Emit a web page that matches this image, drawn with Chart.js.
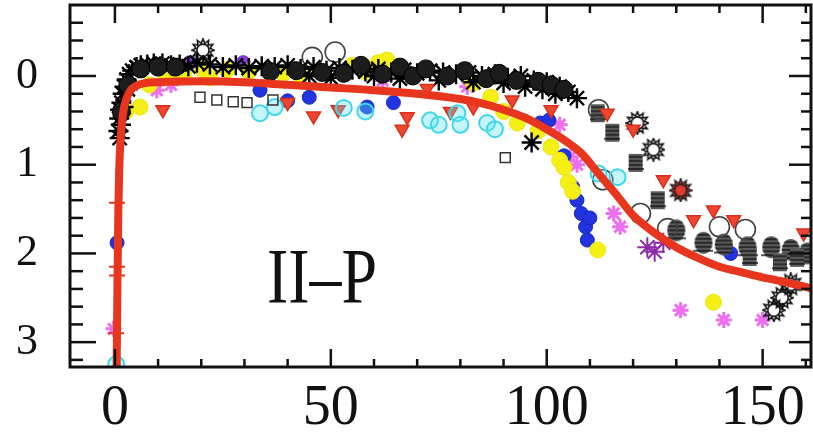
<!DOCTYPE html>
<html>
<head>
<meta charset="utf-8">
<script src="https://cdn.jsdelivr.net/npm/chart.js@4.4.0/dist/chart.umd.min.js"></script>
<style>
  html, body { margin: 0; padding: 0; background: #fff; }
  #wrap { width: 813px; height: 433px; position: relative; }
</style>
</head>
<body>
<div id="wrap"><canvas id="c"></canvas></div>
<script>
// ---- light-curve data: days since explosion vs. magnitude below peak ----

// template curve
const templateX = [0.4, 0.6, 0.8, 1.0, 1.3, 1.8, 2.5, 3.5, 5, 7, 10, 20, 30, 40, 50, 60, 70, 80, 85, 90, 95, 100, 104, 108, 112, 116, 120, 125, 130, 135, 140, 145, 150, 155, 161];
const templateY = [3.3, 2.3, 1.5, 1.05, 0.72, 0.45, 0.28, 0.17, 0.11, 0.08, 0.07, 0.06, 0.07, 0.1, 0.13, 0.16, 0.2, 0.26, 0.31, 0.38, 0.47, 0.6, 0.72, 0.87, 1.1, 1.33, 1.57, 1.77, 1.93, 2.05, 2.15, 2.21, 2.27, 2.32, 2.39];

// black asterisks
const blackStarX = [0.8, 1.0, 1.1, 1.2, 1.4, 1.5, 1.8, 2.0, 2.2, 2.7, 3.0, 3.3, 4, 5, 6, 7.5, 9, 11, 13, 15, 17, 19, 22, 25, 28, 31, 34, 37, 40, 43, 45, 46, 49, 50, 52, 55, 58, 60, 61, 64, 66, 67, 70, 73, 75, 76, 79, 82, 83, 85, 88, 90, 91, 94, 95, 97, 99, 100, 102, 103, 105, 107, 96.5];
const blackStarY = [0.62, 0.48, 0.7, 0.38, 0.55, 0.3, 0.2, 0.35, 0.12, 0.04, 0.15, -0.02, -0.06, -0.1, -0.12, -0.13, -0.14, -0.14, -0.12, -0.13, -0.11, -0.15, -0.13, -0.1, -0.12, -0.09, -0.11, -0.1, -0.12, -0.08, 0.0, -0.1, -0.06, 0.02, -0.09, -0.07, -0.05, 0.0, -0.08, -0.04, 0.03, -0.07, -0.03, -0.06, 0.05, -0.04, -0.02, -0.04, 0.07, 0.0, -0.02, 0.08, 0.02, 0.0, 0.12, 0.05, 0.15, 0.07, 0.2, 0.12, 0.18, 0.25, 0.75];

// dark filled circles along the plateau
const darkDotX = [1.5, 3, 6, 10, 14, 36, 42, 48, 53, 57, 62, 66, 69, 72, 77, 81, 86, 89, 93, 98, 101, 104];
const darkDotY = [0.4, 0.1, -0.08, -0.1, -0.1, -0.05, -0.06, -0.04, -0.03, -0.12, -0.02, -0.1, 0.0, -0.08, 0.0, -0.06, 0.03, -0.03, 0.05, 0.06, 0.1, 0.15];

// yellow filled circles
const yellowX = [2.5, 5.8, 8, 12, 16, 20.4, 22, 26, 31, 39, 43, 55, 58, 61, 63, 66, 83, 87, 90, 93.2, 98, 101, 103, 104, 105, 106, 111.8, 138.6];
const yellowY = [0.4, 0.35, 0.1, 0.02, 0.0, -0.07, 0.02, -0.07, -0.05, -0.03, 0.0, -0.12, -0.05, -0.15, -0.18, -0.08, 0.08, 0.24, 0.4, 0.53, 0.62, 0.8, 0.95, 1.03, 1.2, 1.3, 1.96, 2.55];

// blue filled circles
const blueX = [0.5, 33.6, 40, 45, 58.4, 64.5, 98.5, 100.5, 104, 106, 107, 108, 109, 109.4, 110, 142.6];
const blueY = [1.88, 0.16, 0.28, 0.24, 0.35, 0.3, 0.53, 0.5, 0.9, 1.25, 1.4, 1.55, 1.7, 1.85, 1.6, 2.0];

// purple filled circles
const purpleDotX = [17.4, 29.7];
const purpleDotY = [-0.15, -0.15];

// cyan open circles
const cyanX = [0.3, 33.6, 37, 53, 58, 73, 75, 79.3, 80, 86.2, 88, 112, 116.4];
const cyanY = [3.25, 0.42, 0.35, 0.36, 0.4, 0.5, 0.55, 0.42, 0.55, 0.53, 0.6, 1.1, 1.14];

// red downward triangles
const redTriX = [11.1, 40, 46, 51.7, 66.5, 67.7, 72.3, 77.7, 83, 92, 101, 114, 120, 127, 134, 138.6, 143.3, 159.5];
const redTriY = [0.38, 0.3, 0.45, 0.38, 0.6, 0.46, 0.14, 0.4, 0.35, 0.27, 0.38, 0.42, 0.6, 1.17, 1.62, 1.51, 1.62, 1.77];

// red crosses on the rise
const redCrossX = [0.5, 0.5, 0.5, 0.3];
const redCrossY = [1.43, 2.15, 2.25, 2.9];

// magenta stars
const magentaX = [-0.3, 9.7, 13, 62, 81.6, 103, 105.5, 107, 115.5, 117, 131, 141, 150];
const magentaY = [2.85, 0.16, 0.1, 0.05, 0.12, 0.55, 0.91, 1.0, 1.55, 1.7, 2.64, 2.75, 2.75];

// purple asterisks
const purpleStarX = [123.3, 125, 127];
const purpleStarY = [1.93, 1.98, 1.88];

// black open squares
const openSquareX = [19.7, 23.6, 27.4, 30.6, 36.6, 90.4];
const openSquareY = [0.24, 0.27, 0.29, 0.3, 0.27, 0.92];

// grey open circles
const ringX = [45.7, 51, 112, 113, 121.7, 128, 140, 146];
const ringY = [-0.21, -0.27, 0.38, 1.17, 1.55, 1.72, 1.7, 1.73];

// grey striped squares
const greySquareX = [111.8, 115.2, 120.6, 125.7, 147, 154, 158];
const greySquareY = [0.42, 0.64, 0.98, 1.4, 2.04, 2.1, 2.05];

// grey striped circles
const greyDotX = [130, 136.3, 141, 146.5, 152, 156.5, 160.4];
const greyDotY = [1.74, 1.88, 1.9, 1.93, 1.93, 1.96, 2.0];

// black open suns
const sunX = [20.4, 121, 124.7, 152.6, 154.5, 156.5];
const sunY = [-0.29, 0.53, 0.83, 2.64, 2.5, 2.35];

// red filled suns
const redSunX = [131];
const redSunY = [1.29];

// axis ticks
const xTickValues = [0, 50, 100, 150];
const yTickValues = [0, 1, 2, 3];
const panelLabel = 'II\u2013P';

// ---- marker glyphs ----
function sunGlyph(stroke, fill, size) {
  const c = document.createElement('canvas');
  c.width = c.height = size;
  const g = c.getContext('2d');
  const n = 12, r0 = size * 0.3, r1 = size * 0.47;
  g.translate(size / 2, size / 2);
  g.beginPath();
  for (let i = 0; i < 2 * n; i++) {
    const r = i % 2 ? r0 : r1, a = i * Math.PI / n;
    if (i === 0) g.moveTo(r * Math.cos(a), r * Math.sin(a));
    else g.lineTo(r * Math.cos(a), r * Math.sin(a));
  }
  g.closePath();
  if (fill) { g.fillStyle = fill; g.fill(); }
  g.strokeStyle = stroke; g.lineWidth = 1.6; g.stroke();
  g.beginPath(); g.arc(0, 0, r0 * 0.85, 0, Math.PI * 2); g.stroke();
  return c;
}
function stripedGlyph(shape, w, h) {
  const c = document.createElement('canvas');
  c.width = w; c.height = h;
  const g = c.getContext('2d');
  g.beginPath();
  if (shape === 'rect') g.rect(1, 1, w - 2, h - 2);
  else g.ellipse(w / 2, h / 2, w / 2 - 1, h / 2 - 1, 0, 0, Math.PI * 2);
  g.fillStyle = '#5a5a5a'; g.fill();
  g.save(); g.clip();
  g.strokeStyle = '#1a1a1a'; g.lineWidth = 1.4;
  for (let yy = 4; yy < h; yy += 4) { g.beginPath(); g.moveTo(0, yy); g.lineTo(w, yy); g.stroke(); }
  g.restore();
  g.strokeStyle = '#222'; g.lineWidth = 1.5; g.stroke();
  return c;
}
const openSun = sunGlyph('#111', null, 24);
const redSun = sunGlyph('#222', '#e23a2a', 24);
const greySquare = stripedGlyph('rect', 16, 20);
const greyDot = stripedGlyph('ellipse', 20, 24);

const pts = (xs, ys) => xs.map((v, i) => ({ x: v, y: ys[i] }));
function markers(xs, ys, style) {
  return Object.assign({ data: pts(xs, ys), showLine: false, order: 1 }, style);
}

const datasets = [
  {
    data: pts(templateX, templateY), showLine: true, pointRadius: 0,
    borderColor: '#e8351d', borderWidth: 8, cubicInterpolationMode: 'monotone',
    order: 0, borderCapStyle: 'round', borderJoinStyle: 'round'
  },
  markers(openSquareX, openSquareY, { pointStyle: 'rect', pointRadius: 7, backgroundColor: 'rgba(0,0,0,0)', borderColor: '#333', borderWidth: 1.5 }),
  markers(cyanX, cyanY, { pointStyle: 'circle', pointRadius: 8, backgroundColor: 'rgba(90,225,240,0.35)', borderColor: '#3fd8ea', borderWidth: 2 }),
  markers(redTriX, redTriY, { pointStyle: 'triangle', rotation: 180, pointRadius: 8, backgroundColor: '#ef4632', borderColor: '#d8301c', borderWidth: 1.5 }),
  markers(redCrossX, redCrossY, { pointStyle: 'cross', pointRadius: 8, borderColor: '#e8351d', borderWidth: 2 }),
  markers(darkDotX, darkDotY, { pointStyle: 'circle', pointRadius: 9, backgroundColor: '#1c1c1c', borderColor: '#000', borderWidth: 1 }),
  markers(blackStarX, blackStarY, { pointStyle: 'star', pointRadius: 10, borderColor: '#000', borderWidth: 2.4 }),
  markers(ringX, ringY, { pointStyle: 'circle', pointRadius: 10, backgroundColor: 'rgba(0,0,0,0)', borderColor: '#444', borderWidth: 1.6 }),
  markers(greySquareX, greySquareY, { pointStyle: greySquare }),
  markers(greyDotX, greyDotY, { pointStyle: greyDot }),
  markers(sunX, sunY, { pointStyle: openSun }),
  markers(redSunX, redSunY, { pointStyle: redSun }),
  markers(yellowX, yellowY, { pointStyle: 'circle', pointRadius: 8, backgroundColor: '#f4ef14', borderColor: '#ece510', borderWidth: 1 }),
  markers(blueX, blueY, { pointStyle: 'circle', pointRadius: 7, backgroundColor: '#2233e0', borderColor: '#1a28c0', borderWidth: 1 }),
  markers(purpleDotX, purpleDotY, { pointStyle: 'circle', pointRadius: 7, backgroundColor: '#8a3ce0', borderColor: '#7030c0', borderWidth: 1 }),
  markers(magentaX, magentaY, { pointStyle: 'star', pointRadius: 8, borderColor: '#ee6ef0', borderWidth: 3 }),
  markers(purpleStarX, purpleStarY, { pointStyle: 'star', pointRadius: 10, borderColor: '#8e2aa8', borderWidth: 2 })
];

// box frame with inward ticks on every side, plus the panel label
const framePlugin = {
  id: 'frame',
  afterDraw(chart) {
    const { ctx, chartArea: a, scales: { x, y } } = chart;
    ctx.save();
    ctx.strokeStyle = '#111';
    ctx.lineWidth = 3;
    ctx.strokeRect(a.left, a.top, a.right - a.left, a.bottom - a.top);
    ctx.lineWidth = 2.5;
    const seg = (x0, y0, x1, y1) => { ctx.beginPath(); ctx.moveTo(x0, y0); ctx.lineTo(x1, y1); ctx.stroke(); };
    for (let k = 0; k <= 16; k++) {
      const v = k * 10, px = x.getPixelForValue(v);
      if (px < a.left || px > a.right) continue;
      const major = v % 50 === 0;
      seg(px, a.bottom, px, a.bottom - (major ? 18 : 8));
      seg(px, a.top, px, a.top + (major ? 18 : 8));
    }
    for (let k = -3; k <= 16; k++) {
      const py = y.getPixelForValue(k / 5);
      if (py < a.top || py > a.bottom) continue;
      const major = k % 5 === 0;
      seg(a.left, py, a.left + (major ? 26 : 13), py);
      seg(a.right, py, a.right - (major ? 22 : 10), py);
    }
    // panel label
    const lx = x.getPixelForValue(35.2), ly = y.getPixelForValue(2.55);
    ctx.fillStyle = '#111';
    ctx.font = '78px "Liberation Serif", "Times New Roman", serif';
    ctx.textBaseline = 'alphabetic';
    ctx.textAlign = 'left';
    ctx.translate(lx, ly);
    ctx.scale(0.82, 1);
    ctx.fillText(panelLabel, 0, 0);
    ctx.restore();
  }
};

new Chart(document.getElementById('c'), {
  type: 'scatter',
  data: { datasets },
  options: {
    responsive: true,
    maintainAspectRatio: false,
    animation: false,
    events: [],
    layout: { autoPadding: false, padding: { top: 5, right: 2, left: 0, bottom: 0 } },
    plugins: { legend: { display: false }, tooltip: { enabled: false } },
    scales: {
      x: {
        type: 'linear', min: -10.4, max: 161.2,
        afterFit: s => { s.height = 66; s.paddingLeft = 0; s.paddingRight = 0; },
        afterBuildTicks: s => { s.ticks = xTickValues.map(v => ({ value: v })); },
        grid: { display: false, drawTicks: false },
        border: { display: false },
        ticks: {
          color: '#111', padding: 9, maxRotation: 0, autoSkip: false,
          font: { family: '"Liberation Serif", "Times New Roman", serif', size: 56 }
        }
      },
      y: {
        type: 'linear', reverse: true, min: -0.8, max: 3.28,
        afterFit: s => { s.width = 70; s.paddingTop = 0; s.paddingBottom = 0; },
        afterBuildTicks: s => { s.ticks = yTickValues.map(v => ({ value: v })); },
        grid: { display: false, drawTicks: false },
        border: { display: false },
        ticks: {
          color: '#111', padding: 32, autoSkip: false,
          font: { family: '"Liberation Serif", "Times New Roman", serif', size: 44 }
        }
      }
    }
  },
  plugins: [framePlugin]
});
</script>
</body>
</html>
